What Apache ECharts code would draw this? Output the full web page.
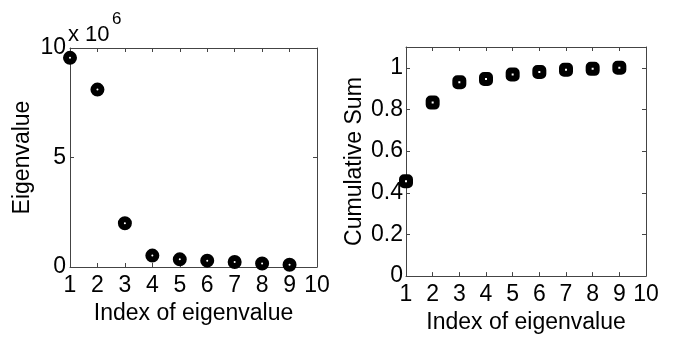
<!DOCTYPE html>
<html>
<head>
<meta charset="utf-8">
<script src="https://cdn.jsdelivr.net/npm/echarts@6/dist/echarts.min.js"></script>
<style>
html,body{margin:0;padding:0;background:#fff;}
#main{width:673px;height:339px;}
</style>
</head>
<body>
<div id="main"></div>
<script>
// data
var indexList = [1, 2, 3, 4, 5, 6, 7, 8, 9];
var eigenList = [9.55e6, 8.1e6, 2.0e6, 0.52e6, 0.35e6, 0.29e6, 0.23e6, 0.16e6, 0.1e6];
var cumSumList = [0.455, 0.833, 0.931, 0.946, 0.968, 0.98, 0.991, 0.995, 1.0];

var font = 'Liberation Sans, Arial, sans-serif';
var axisColor = '#444';
var fs = 23;

function pairs(xs, ys) {
	var out = [];
	for (var i = 0; i < xs.length; i++) out.push([xs[i], ys[i]]);
	return out;
}

function xAxisOf(gridIndex, pos, showLabel) {
	return {
		gridIndex: gridIndex, type: 'value', position: pos, min: 1, max: 10, interval: 1,
		axisLine: { onZero: false, lineStyle: { color: axisColor, width: 1 } },
		axisTick: { inside: true, length: 4, lineStyle: { color: axisColor } },
		splitLine: { show: false },
		axisLabel: { show: showLabel, color: '#000', fontSize: fs, fontFamily: font, margin: 7 },
		name: showLabel ? 'Index of eigenvalue' : '', nameLocation: 'middle', nameGap: 33,
		nameTextStyle: { color: '#000', fontSize: fs, fontFamily: font }
	};
}

function rightAxis(gridIndex, max, interval) {
	return {
		gridIndex: gridIndex, type: 'value', position: 'right', min: 0, max: max, interval: interval,
		axisLine: { show: true, lineStyle: { color: axisColor } },
		axisTick: { show: true, inside: true, length: 4, lineStyle: { color: axisColor } },
		splitLine: { show: false }, axisLabel: { show: false }
	};
}

var myChart = echarts.init(document.getElementById('main'));
var option = {
	animation: false,
	backgroundColor: '#fff',
	grid: [
		{ left: 70, top: 48, width: 247, height: 219 },
		{ left: 406, top: 47, width: 240, height: 233 }
	],
	xAxis: [
		xAxisOf(0, 'bottom', true),
		xAxisOf(0, 'top', false),
		xAxisOf(1, 'bottom', true),
		xAxisOf(1, 'top', false)
	],
	yAxis: [
		{
			gridIndex: 0, type: 'value', min: 0, max: 1e7, interval: 5e6,
			axisLine: { show: true, lineStyle: { color: axisColor } },
			axisTick: { show: true, inside: true, length: 4, lineStyle: { color: axisColor } },
			splitLine: { show: false },
			axisLabel: { color: '#000', fontSize: fs, fontFamily: font, margin: 4,
				formatter: function (v) { return v / 1e6; } },
			name: 'Eigenvalue', nameLocation: 'middle', nameGap: 36,
			nameTextStyle: { color: '#000', fontSize: fs, fontFamily: font }
		},
		rightAxis(0, 1e7, 5e6),
		{
			gridIndex: 1, type: 'value', min: 0, max: 1.1, interval: 0.2,
			axisLine: { show: true, lineStyle: { color: axisColor } },
			axisTick: { show: true, inside: true, length: 4, lineStyle: { color: axisColor } },
			splitLine: { show: false },
			axisLabel: { color: '#000', fontSize: fs, fontFamily: font, margin: 3,
				formatter: function (v) { return v > 1.05 ? '' : String(+v.toFixed(1)); } },
			name: 'Cumulative Sum', nameLocation: 'middle', nameGap: 40,
			nameTextStyle: { color: '#000', fontSize: fs, fontFamily: font }
		},
		rightAxis(1, 1.1, 0.2)
	],
	graphic: [
		{ type: 'text', left: 68, top: 24,
			style: { text: 'x 10', fontSize: 22, fontFamily: font, fill: '#000' } },
		{ type: 'text', left: 112, top: 11,
			style: { text: '6', fontSize: 17, fontFamily: font, fill: '#000' } }
	],
	series: [
		{
			type: 'scatter', xAxisIndex: 0, yAxisIndex: 0,
			data: pairs(indexList, eigenList),
			symbol: 'circle', symbolSize: 8,
			itemStyle: { color: '#fff', borderColor: '#000', borderWidth: 6, opacity: 1 }
		},
		{
			type: 'scatter', xAxisIndex: 2, yAxisIndex: 2,
			data: pairs(indexList, cumSumList),
			symbol: 'roundRect', symbolSize: 8,
			itemStyle: { color: '#fff', borderColor: '#000', borderWidth: 6, opacity: 1 }
		}
	]
};
myChart.setOption(option);
</script>
</body>
</html>
